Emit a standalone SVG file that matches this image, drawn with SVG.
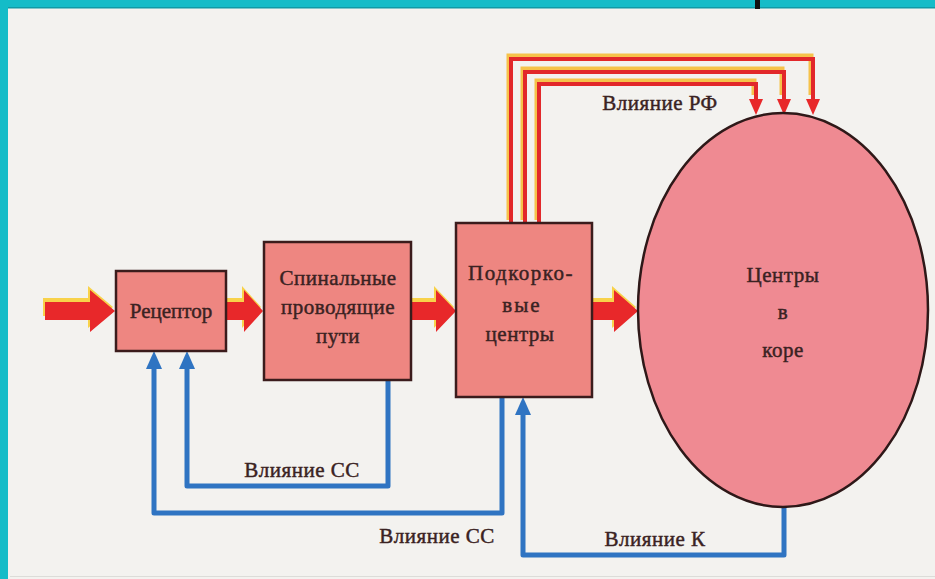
<svg xmlns="http://www.w3.org/2000/svg" width="935" height="579" viewBox="0 0 935 579">
<defs>
<style>
.box{fill:#ee8681;stroke:#3b1c1c;stroke-width:2.5}
.oval{fill:#ef8a92;stroke:#2e1818;stroke-width:2.5}
.t{font-family:"Liberation Serif","Times New Roman",serif;font-size:21px;fill:#3a2222;stroke:#3a2222;stroke-width:0.45;text-anchor:middle;letter-spacing:0.5px}
.red{fill:#e8282a}
.yel{fill:#f8d24a}
.rline{fill:none;stroke:#e2282a;stroke-width:4}
.yline{fill:none;stroke:#f6c24a;stroke-width:5}
.bline{fill:none;stroke:#2f74c2;stroke-width:5;stroke-linejoin:round}
.bhead{fill:#2f74c2}
</style>
</defs>
<rect x="0" y="0" width="935" height="579" fill="#f3f2ef"/>
<rect x="0" y="0" width="935" height="7" fill="#14bcc8"/>
<rect x="0" y="7" width="935" height="1.5" fill="#0f9aa6"/>
<rect x="0" y="0" width="8" height="579" fill="#14bcc8"/>
<rect x="755" y="0" width="5" height="9" fill="#111"/>
<line x1="10" y1="576.5" x2="935" y2="576.5" stroke="#dcdcd8" stroke-width="1"/>

<g id="connectors">
  <g transform="translate(-2,-4)" class="yel">
    <path d="M45 302 H90 V290 L115 311 L90 332 V320 H45 Z"/>
    <path d="M226 302 H244 V290 L263 311 L244 332 V320 H226 Z"/>
    <path d="M411 302 H436 V290 L456 311 L436 332 V320 H411 Z"/>
    <path d="M592 302 H614 V290 L638 311 L614 332 V320 H592 Z"/>
  </g>
  <g class="red">
    <path id="a-in" d="M45 302 H90 V290 L115 311 L90 332 V320 H45 Z"/>
    <path id="a-rec-spin" d="M226 302 H244 V290 L263 311 L244 332 V320 H226 Z"/>
    <path id="a-spin-sub" d="M411 302 H436 V290 L456 311 L436 332 V320 H411 Z"/>
    <path id="a-sub-cortex" d="M592 302 H614 V290 L638 311 L614 332 V320 H592 Z"/>
  </g>
  <g transform="translate(-2,-3)">
    <path class="yline" d="M511 223 V59 H813 V98"/>
    <path class="yline" d="M525 223 V72 H784 V98"/>
    <path class="yline" d="M539 223 V84 H756 V98"/>
  </g>
  <path class="rline" d="M511 223 V59 H813 V100"/>
  <path class="rline" d="M525 223 V72 H784 V100"/>
  <path class="rline" d="M539 223 V84 H756 V100"/>
  <path class="red" d="M806 99 H820 L813 115 Z"/>
  <path class="red" d="M777 99 H791 L784 115 Z"/>
  <path class="red" d="M749 99 H763 L756 115 Z"/>
  <path class="bline" d="M388 380 V486 H187 V366"/>
  <path class="bhead" d="M187 351 L195 369 H179 Z"/>
  <path class="bline" d="M502 397 V513 H154 V366"/>
  <path class="bhead" d="M154 351 L162 369 H146 Z"/>
  <path class="bline" d="M784 507 V555 H523 V412"/>
  <path class="bhead" d="M523 397 L531 415 H515 Z"/>
  <text class="t" x="302" y="477">Влияние СС</text>
  <text class="t" x="437" y="543">Влияние СС</text>
  <text class="t" x="655" y="546">Влияние К</text>
  <text class="t" x="660" y="110">Влияние РФ</text>
</g>

<g id="receptor">
  <rect class="box" x="116" y="271" width="110" height="80"/>
  <text class="t" x="171" y="318" style="letter-spacing:0">Рецептор</text>
</g>
<g id="spinal">
  <rect class="box" x="264" y="242" width="147" height="138"/>
  <text class="t" x="338" y="285">Спинальные</text>
  <text class="t" x="338" y="314">проводящие</text>
  <text class="t" x="338" y="343">пути</text>
</g>
<g id="subcortical">
  <rect class="box" x="456" y="223" width="136" height="174"/>
  <text class="t" x="521" y="280" style="letter-spacing:1.5px">Подкорко-</text>
  <text class="t" x="522" y="312" style="letter-spacing:2px">вые</text>
  <text class="t" x="520" y="341">центры</text>
</g>
<g id="cortex">
  <ellipse class="oval" cx="783" cy="310" rx="145" ry="197"/>
  <text class="t" x="783" y="282">Центры</text>
  <text class="t" x="783" y="319">в</text>
  <text class="t" x="783" y="357">коре</text>
</g>
</svg>
